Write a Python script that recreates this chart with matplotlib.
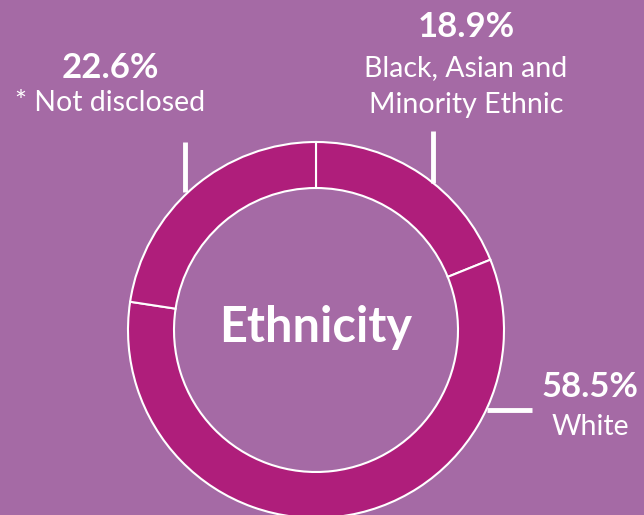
import matplotlib.pyplot as plt

# Data
labels = ['Black, Asian and\nMinority Ethnic', 'White', '* Not disclosed']
values = [18.9, 58.5, 22.6]
pct_text = ['18.9%', '58.5%', '22.6%']

bg = '#a56aa5'
ring = '#af1e7b'

plt.rcParams['font.family'] = ['Lato', 'DejaVu Sans']

fig = plt.figure(figsize=(6.44, 5.15), dpi=100, facecolor=bg)
ax = fig.add_axes([0, 0, 1, 1])
ax.set_facecolor(bg)

cx, cy, R = 316, 185, 188
ax.pie(values, center=(cx, cy), radius=R, startangle=90, counterclock=False,
       colors=[ring] * 3, frame=True,
       wedgeprops=dict(width=46, edgecolor='white', linewidth=1.5))
ax.set_xlim(0, 644)
ax.set_ylim(0, 515)
ax.set_aspect('equal')
ax.axis('off')

ax.text(cx, cy + 3, 'Ethnicity', ha='center', va='center', color='white',
        fontsize=35, fontweight='bold')

# leader lines
lw = 3.5
ax.plot([185, 185], [323, 373], color='white', lw=lw, solid_capstyle='butt')
ax.plot([433, 433], [332, 384], color='white', lw=lw, solid_capstyle='butt')
ax.plot([487, 532], [105, 105], color='white', lw=lw, solid_capstyle='butt')

# labels: x, y of percentage, y of first label line
pos = {0: (466, 488, 447), 1: (590, 128, 88), 2: (110, 447, 412)}
for i in range(3):
    x, yp, yl = pos[i]
    ax.text(x, yp, pct_text[i], ha='center', va='center', color='white',
            fontsize=25, fontweight='bold')
    for j, line in enumerate(labels[i].split('\n')):
        ax.text(x, yl - 37 * j, line, ha='center', va='center',
                color='white', fontsize=20.5)

fig.savefig('out.png', dpi=100, facecolor=bg)
